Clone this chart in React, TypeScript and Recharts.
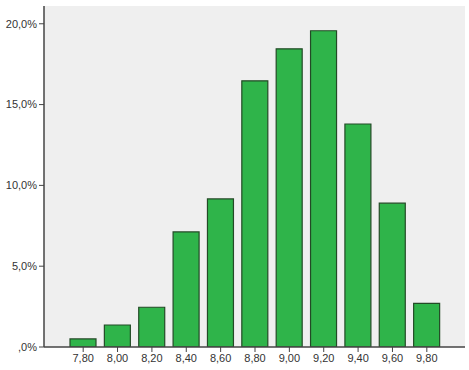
import React from "react";
import { BarChart, Bar, XAxis, YAxis, CartesianGrid } from "recharts";

const categories = ["7,80", "8,00", "8,20", "8,40", "8,60", "8,80", "9,00", "9,20", "9,40", "9,60", "9,80"];
const percents = [0.5, 1.36, 2.46, 7.12, 9.16, 16.47, 18.45, 19.57, 13.8, 8.9, 2.7];
const yTicks = [0, 5, 10, 15, 20];

const data = categories.map((c, i) => ({ cat: c, value: percents[i] }));

const fmt = (v: number) => (v === 0 ? ",0%" : v.toFixed(1).replace(".", ",") + "%");

export default function App() {
  return (
    <div style={{ position: "absolute", left: 0, top: 0 }}>
      <BarChart
        width={469}
        height={370}
        data={data}
        margin={{ top: 6, right: 4, bottom: 0, left: 0 }}
        barSize={26}
      >
        <CartesianGrid fill="#EFEFEF" horizontal={false} vertical={false} />
        <XAxis
          dataKey="cat"
          height={23}
          padding={{ left: 22, right: 21 }}
          axisLine={{ stroke: "#444", strokeWidth: 1.5 }}
          tickLine={{ stroke: "#444" }}
          tickSize={5}
          tick={{ fill: "#333", fontSize: 11, fontFamily: "Liberation Sans, Arial, sans-serif" }}
          interval={0}
        />
        <XAxis
          xAxisId="top"
          orientation="top"
          dataKey="cat"
          height={0}
          tick={false}
          tickLine={false}
          axisLine={{ stroke: "#555", strokeWidth: 1.5 }}
        />
        <YAxis
          width={44}
          domain={[0, 21.1]}
          ticks={yTicks}
          tickFormatter={fmt}
          allowDataOverflow
          axisLine={{ stroke: "#444", strokeWidth: 1.5 }}
          tickLine={{ stroke: "#444" }}
          tickSize={5}
          tick={{ fill: "#333", fontSize: 11, fontFamily: "Liberation Sans, Arial, sans-serif" }}
        />
        <YAxis
          yAxisId="right"
          orientation="right"
          width={0}
          tick={false}
          tickLine={false}
          axisLine={{ stroke: "#777", strokeWidth: 1.5 }}
        />
        <Bar dataKey="value" fill="#2FB44A" stroke="#234a26" strokeWidth={1.2} isAnimationActive={false} />
      </BarChart>
    </div>
  );
}
